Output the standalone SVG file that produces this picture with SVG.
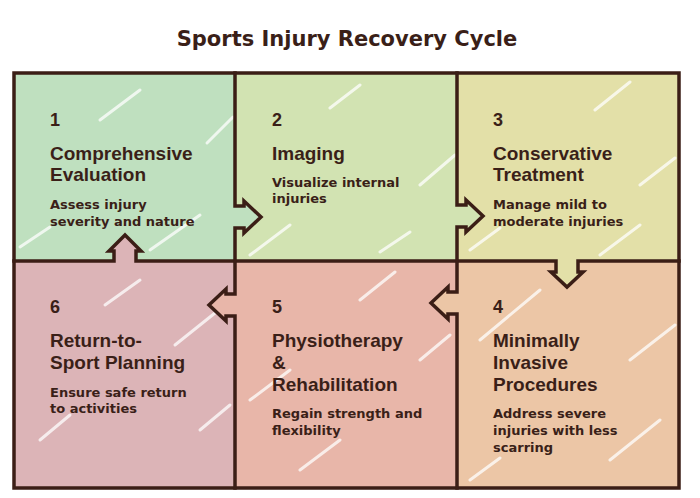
<svg xmlns="http://www.w3.org/2000/svg" width="700" height="498" viewBox="0 0 700 498">
  <style>
    .title { font-family: "DejaVu Sans", "Liberation Sans", sans-serif; font-weight: bold; font-size: 21px; fill: #3a1f18; }
    .num, .head { font-family: "Liberation Sans", Arial, sans-serif; font-weight: bold; font-size: 19px; fill: #3a1f18; }
    .num { font-size: 18px; }
    .desc { font-family: "DejaVu Sans", "Liberation Sans", sans-serif; font-weight: bold; font-size: 13px; fill: #3a1f18; }
    .streak { stroke: #ffffff; stroke-width: 3; stroke-linecap: round; opacity: 0.75; fill: none; }
    .line { stroke: #3b1e16; stroke-width: 3.5; stroke-linecap: square; stroke-linejoin: miter; fill: none; }
    .arrow { stroke: #3b1e16; stroke-width: 3.5; stroke-linejoin: miter; }
  </style>
  <rect width="700" height="498" fill="#ffffff"/>
  <text class="title" x="347" y="46" text-anchor="middle">Sports Injury Recovery Cycle</text>

  <g id="node1">
    <rect x="14" y="73" width="221" height="188" fill="#bfe0bf"/>
    <path class="streak" d="M100,120 L140,90 M207,143 L233,117 M20,247 L50,227 M150,250 L200,215"/>
    <text class="num" x="50" y="126">1</text>
    <text class="head" x="50" y="160">Comprehensive</text>
    <text class="head" x="50" y="181">Evaluation</text>
    <text class="desc" x="50" y="209">Assess injury</text>
    <text class="desc" x="50" y="226">severity and nature</text>
  </g>

  <g id="node2">
    <rect x="235" y="73" width="222" height="188" fill="#d2e3b2"/>
    <path class="streak" d="M330,108 L360,85 M420,185 L455,155 M250,255 L290,225 M380,252 L410,232"/>
    <text class="num" x="272" y="126">2</text>
    <text class="head" x="272" y="160">Imaging</text>
    <text class="desc" x="272" y="187">Visualize internal</text>
    <text class="desc" x="272" y="203">injuries</text>
  </g>

  <g id="node3">
    <rect x="457" y="73" width="222" height="188" fill="#e3e0a8"/>
    <path class="streak" d="M595,110 L630,82 M640,185 L675,158 M470,250 L500,228 M600,255 L640,225"/>
    <text class="num" x="493" y="126">3</text>
    <text class="head" x="493" y="160">Conservative</text>
    <text class="head" x="493" y="181">Treatment</text>
    <text class="desc" x="493" y="209">Manage mild to</text>
    <text class="desc" x="493" y="226">moderate injuries</text>
  </g>

  <g id="node4">
    <rect x="457" y="261" width="222" height="227" fill="#ecc6a6"/>
    <path class="streak" d="M480,340 L540,290 M630,360 L675,325 M610,460 L660,420 M470,480 L500,458"/>
    <text class="num" x="493" y="313">4</text>
    <text class="head" x="493" y="347">Minimally</text>
    <text class="head" x="493" y="369">Invasive</text>
    <text class="head" x="493" y="391">Procedures</text>
    <text class="desc" x="493" y="418">Address severe</text>
    <text class="desc" x="493" y="435">injuries with less</text>
    <text class="desc" x="493" y="452">scarring</text>
  </g>

  <g id="node5">
    <rect x="235" y="261" width="222" height="227" fill="#e8b6a9"/>
    <path class="streak" d="M360,300 L395,272 M420,360 L450,335 M250,400 L290,370 M300,470 L340,440"/>
    <text class="num" x="272" y="313">5</text>
    <text class="head" x="272" y="347">Physiotherapy</text>
    <text class="head" x="272" y="369">&amp;</text>
    <text class="head" x="272" y="391">Rehabilitation</text>
    <text class="desc" x="272" y="418">Regain strength and</text>
    <text class="desc" x="272" y="435">flexibility</text>
  </g>

  <g id="node6">
    <rect x="14" y="261" width="221" height="227" fill="#dcb4b7"/>
    <path class="streak" d="M105,305 L140,280 M175,345 L225,305 M200,430 L230,405 M40,440 L70,415"/>
    <text class="num" x="50" y="313">6</text>
    <text class="head" x="50" y="347">Return-to-</text>
    <text class="head" x="50" y="369">Sport Planning</text>
    <text class="desc" x="50" y="397">Ensure safe return</text>
    <text class="desc" x="50" y="413">to activities</text>
  </g>

  <g id="connectors">
    <path class="line" d="M14,73 H679 V488 H14 Z"/>
    <path class="line" d="M14,261 H114 M136,261 H556 M578,261 H679"/>
    <path class="line" d="M235,73 V206 M235,228 V294 M235,316 V488"/>
    <path class="line" d="M457,73 V205 M457,227 V292 M457,314 V488"/>
    <path class="arrow" fill="#bfe0bf" d="M235,206 H244 V201 L261,217 L244,233 V228 H235"/>
    <path class="arrow" fill="#d2e3b2" d="M457,205 H466 V200 L483,216 L466,232 V227 H457"/>
    <path class="arrow" fill="#e3e0a8" d="M556,261 V272 H551 L567,287 L583,272 H578 V261"/>
    <path class="arrow" fill="#ecc6a6" d="M457,292 H448 V287 L431,303 L448,319 V314 H457"/>
    <path class="arrow" fill="#e8b6a9" d="M235,294 H226 V289 L209,305 L226,321 V316 H235"/>
    <path class="arrow" fill="#dcb4b7" d="M114,261 V251 H109 L125,235 L141,251 H136 V261"/>
  </g>
</svg>
